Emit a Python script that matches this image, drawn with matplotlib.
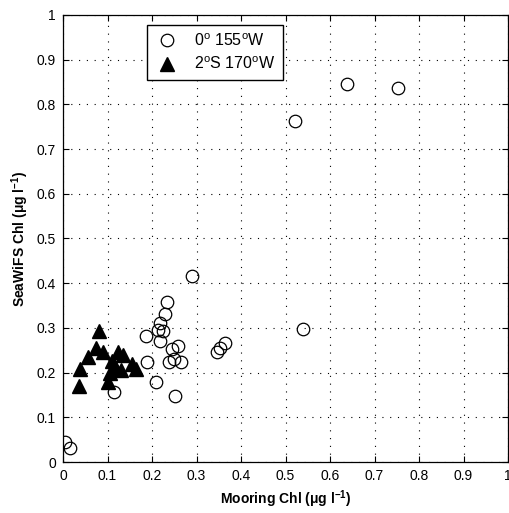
import numpy as np
import matplotlib
matplotlib.use('Agg')
import matplotlib.pyplot as plt
from matplotlib.ticker import FuncFormatter

plt.rcParams['font.family'] = ['Liberation Sans', 'DejaVu Sans']
plt.rcParams['mathtext.fontset'] = 'custom'
plt.rcParams['mathtext.rm'] = 'Liberation Sans'
plt.rcParams['mathtext.bf'] = 'Liberation Sans:bold'

# 0N 155W mooring (open circles)
x155 = [0.004, 0.015, 0.114, 0.186, 0.189, 0.210, 0.214, 0.217, 0.217, 0.224,
        0.230, 0.234, 0.238, 0.244, 0.250, 0.252, 0.259, 0.266, 0.289, 0.346,
        0.352, 0.364, 0.540, 0.522, 0.639, 0.752]
y155 = [0.045, 0.031, 0.157, 0.282, 0.223, 0.178, 0.295, 0.312, 0.271, 0.292,
        0.330, 0.357, 0.224, 0.253, 0.230, 0.148, 0.260, 0.223, 0.417, 0.247,
        0.254, 0.266, 0.297, 0.763, 0.845, 0.837]

# 2S 170W mooring (filled triangles)
x170 = [0.081, 0.075, 0.090, 0.057, 0.039, 0.036, 0.124, 0.135, 0.109, 0.117,
        0.154, 0.165, 0.105, 0.102, 0.131]
y170 = [0.293, 0.254, 0.245, 0.236, 0.207, 0.170, 0.245, 0.239, 0.226, 0.213,
        0.219, 0.208, 0.198, 0.180, 0.206]

ticks = np.round(np.arange(0, 1.01, 0.1), 1)

fig = plt.figure(figsize=(5.09, 5.13), dpi=100)
ax = fig.add_axes([63 / 509, 51 / 513, 445 / 509, 447 / 513])

ax.plot(x155, y155, 'o', mfc='none', mec='black', mew=0.9, ms=9, label=r'0$^{\rm o}$ 155$^{\rm o}$W')
ax.plot(x170, y170, '^', mfc='black', mec='black', ms=10, label=r'2$^{\rm o}$S 170$^{\rm o}$W')

ax.set_xlim(0, 1)
ax.set_ylim(0, 1)
ax.set_xticks(ticks)
ax.set_yticks(ticks)
fmt = FuncFormatter(lambda v, p: '%g' % v)
ax.xaxis.set_major_formatter(fmt)
ax.yaxis.set_major_formatter(fmt)
ax.tick_params(direction='in', top=True, right=True, length=4, width=0.8, labelsize=10, pad=5)
ax.grid(True, linestyle=(0, (1, 6)), color='black', linewidth=0.8)
for s in ax.spines.values():
    s.set_linewidth(0.9)

ax.set_xlabel(r'Mooring Chl ($\mathbf{\mu}$g l$^{\mathbf{-1}}$)', fontweight='bold', fontsize=10)
ax.set_ylabel(r'SeaWiFS Chl ($\mathbf{\mu}$g l$^{\mathbf{-1}}$)', fontweight='bold', fontsize=10)

leg = ax.legend(loc='upper left', bbox_to_anchor=(0.189, 0.978), borderaxespad=0, fancybox=False,
                edgecolor='black', framealpha=1, fontsize=11.5, handletextpad=0.9, borderpad=0.45,
                labelspacing=0.45, handlelength=1.6)
leg.get_frame().set_linewidth(1.0)

fig.savefig('out.png', dpi=100)
